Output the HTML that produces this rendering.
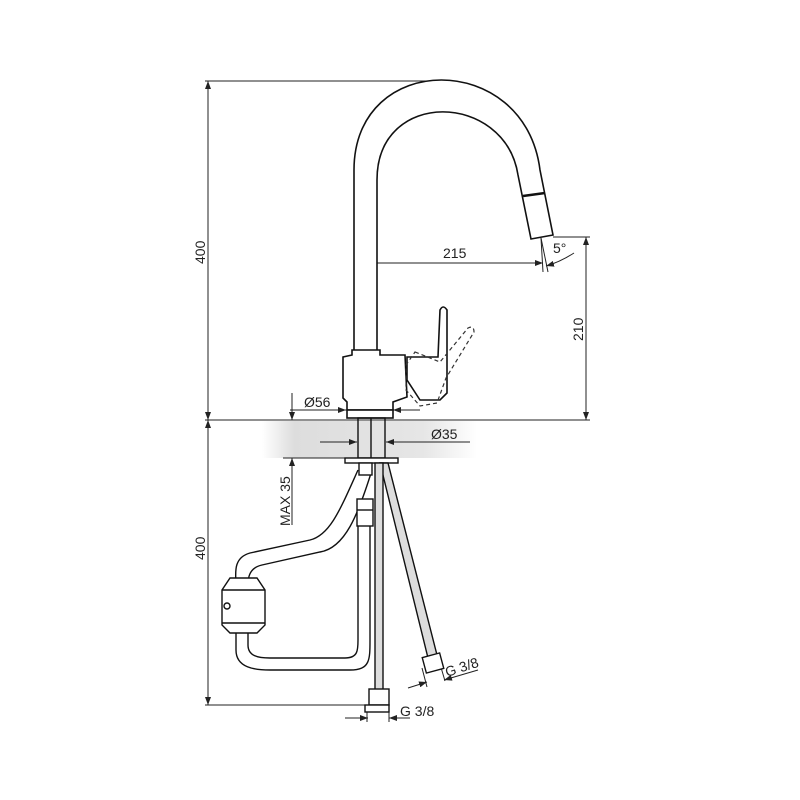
<!DOCTYPE html>
<html><head><style>
html,body{margin:0;padding:0;background:#fff}
svg{display:block}
text{font-family:"Liberation Sans",sans-serif;fill:#222}
</style></head><body>
<svg width="800" height="800" viewBox="0 0 800 800" xmlns="http://www.w3.org/2000/svg">
<defs>
<linearGradient id="g" x1="0" x2="1" y1="0" y2="0">
<stop offset="0" stop-color="#fff"/><stop offset="0.15" stop-color="#ddd"/><stop offset="0.75" stop-color="#e6e6e6"/><stop offset="1" stop-color="#fff"/>
</linearGradient>
<marker id="a" markerWidth="8" markerHeight="6" refX="8" refY="3" orient="auto-start-reverse" markerUnits="userSpaceOnUse"><path d="M0,0 L8,3 L0,6z" fill="#222"/></marker>
</defs>
<rect x="262" y="421" width="215" height="37" fill="url(#g)"/>
<g fill="none" stroke="#222" stroke-width="1">
<line x1="205" y1="81" x2="437" y2="81"/>
<line x1="205" y1="420" x2="590" y2="420"/>
<line x1="205" y1="705" x2="378" y2="705"/>
<line x1="208" y1="81" x2="208" y2="420" marker-start="url(#a)" marker-end="url(#a)"/>
<line x1="208" y1="420" x2="208" y2="705" marker-start="url(#a)" marker-end="url(#a)"/>
<line x1="553" y1="237" x2="590" y2="237"/>
<line x1="586" y1="237" x2="586" y2="420" marker-start="url(#a)" marker-end="url(#a)"/>
<line x1="367" y1="255" x2="367" y2="283"/>
<line x1="367" y1="263" x2="543" y2="263" marker-start="url(#a)" marker-end="url(#a)"/>
<line x1="541" y1="238" x2="543" y2="272"/>
<line x1="541" y1="238" x2="548" y2="272"/>
<path d="M546,266 Q560,262 574,253" marker-start="url(#a)"/>
<line x1="290" y1="410" x2="346" y2="410" marker-end="url(#a)"/>
<line x1="420" y1="410" x2="393" y2="410" marker-end="url(#a)"/>
<line x1="320" y1="442" x2="357" y2="442" marker-end="url(#a)"/>
<line x1="470" y1="442" x2="386" y2="442" marker-end="url(#a)"/>
<line x1="292" y1="393" x2="292" y2="420" marker-end="url(#a)"/>
<line x1="292" y1="525" x2="292" y2="458" marker-end="url(#a)"/>
<line x1="283" y1="458" x2="345" y2="458"/>
<line x1="345" y1="718" x2="368" y2="718" marker-end="url(#a)"/>
<line x1="410" y1="718" x2="389" y2="718" marker-end="url(#a)"/>
<line x1="367" y1="705" x2="367" y2="722"/><line x1="389" y1="705" x2="389" y2="722"/>
<line x1="408" y1="688" x2="427" y2="682" marker-end="url(#a)"/>
<line x1="478" y1="670" x2="444" y2="680" marker-end="url(#a)"/>
<line x1="422" y1="668" x2="427" y2="687"/><line x1="440" y1="664" x2="445" y2="681"/>
</g>
<g fill="#fff" stroke="#111" stroke-width="1.6">
<path d="M354,350 L354,170 C354,50 525,50 540,170 L553,235 L531,239 L518,175 C505,92 377,88 377,180 L377,350" />
<line x1="523" y1="196" x2="545" y2="193" stroke-width="2.5"/>
<path d="M352,350 L380,350 L380,355 L405,355 L407,397 L393,402 L393,410 L347,410 L347,402 L343,398 L343,357 L352,355z"/>
<rect x="347" y="410" width="46" height="8"/>
<path d="M407,357 L438,357 L440,310 Q443,304 447,310 L447,393 L440,400 L420,400 L407,380z"/>
</g>
<path d="M415,352 L440,362 L468,328 Q474,325 474,332 L446,378 L437,403 L420,406 L406,390 L406,365z" fill="none" stroke="#333" stroke-width="1.2" stroke-dasharray="4,3"/>
<g fill="#fff" stroke="#111" stroke-width="1.4">
<rect x="358" y="418" width="27" height="40" fill="none"/>
<line x1="371" y1="418" x2="371" y2="458"/>
<rect x="345" y="458" width="53" height="5"/>
<path d="M380,463 L388,463 L437,655 L428,658z" fill="#ddd"/>
<rect x="424" y="655" width="18" height="16" transform="rotate(-15 433 663)"/>
<rect x="375" y="463" width="8" height="228" fill="#ddd"/>
<rect x="369" y="689" width="20" height="16"/>
<rect x="365" y="705" width="24" height="7"/>
<path d="M358,470 C340,510 330,535 310,540 L250,553 C232,558 236,575 236,585" fill="none" stroke-width="1.4"/>
<path d="M372,470 C358,515 345,548 320,552 L262,565 C248,568 248,580 248,585" fill="none"/>
<path d="M236,630 L236,650 C236,668 255,670 270,670 L350,670 C370,670 370,660 370,640 L370,525" fill="none"/>
<path d="M248,630 L248,645 C248,656 258,658 270,658 L345,658 C358,658 358,650 358,640 L358,525" fill="none"/>
<rect x="359" y="463" width="13" height="12"/>
<rect x="357" y="499" width="16" height="27"/>
<line x1="357" y1="510" x2="373" y2="510"/>
<path d="M230,578 L257,578 L265,590 L265,625 L257,633 L230,633 L222,625 L222,590z"/>
<line x1="222" y1="590" x2="265" y2="590"/><line x1="222" y1="623" x2="265" y2="623"/>
<circle cx="227" cy="606" r="3"/>
</g>
<g font-size="14">
<text x="0" y="0" transform="translate(205,264) rotate(-90)">400</text>
<text x="0" y="0" transform="translate(205,560) rotate(-90)">400</text>
<text x="0" y="0" transform="translate(583,341) rotate(-90)">210</text>
<text x="0" y="0" transform="translate(290,526) rotate(-90)">MAX 35</text>
<text x="443" y="258">215</text>
<text x="553" y="253">5°</text>
<text x="304" y="407">Ø56</text>
<text x="431" y="439">Ø35</text>
<text x="400" y="716">G 3/8</text>
<text x="0" y="0" transform="translate(447,677) rotate(-18)">G 3/8</text>
</g>
</svg>
</body></html>
